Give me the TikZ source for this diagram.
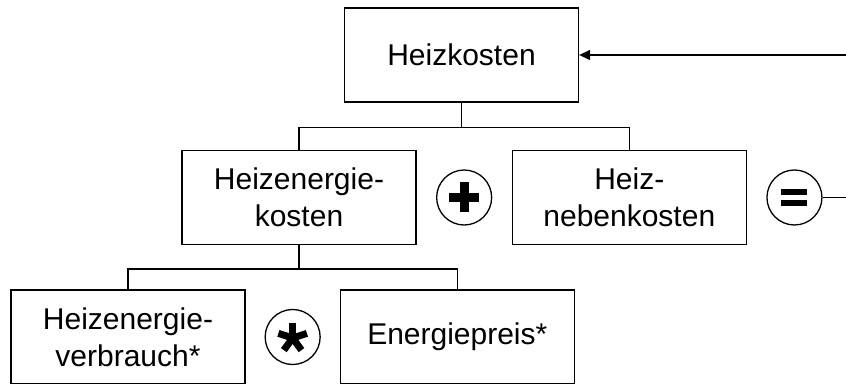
\documentclass[tikz,border=0pt]{standalone}
\usepackage{fontspec}
\setmainfont{Liberation Sans}
\usetikzlibrary{arrows.meta,calc,positioning}
\tikzset{
  >={Triangle[length=11pt,width=10pt]}
}

\begin{document}
\begin{tikzpicture}[
        x=1pt,y=1pt,
        line width=1.3pt,
        rekt/.style={rectangle,draw,align=center,minimum width=234pt,minimum height=94pt,inner sep=0pt,
          font=\fontsize{30}{37}\selectfont},
        opcirc/.style={circle,draw,minimum size=55pt,inner sep=0pt},
        sym/.style={line width=9pt}
      ]
      \useasboundingbox (0,0) rectangle (846,383);
      \clip (0,0) rectangle (846,383);
      \node (TOP) at (461.5,328) [rekt] {Heizkosten};
      \node (KOST) at (299,185.5) [rekt] {Heizenergie-\\kosten};
      \node (NEBEN) [rekt,right=95pt of KOST] {Heiz-\\nebenkosten};
      \node (VERB) at (128,46) [rekt] {Heizenergie-\\verbrauch*};
      \node (PREIS) [rekt,right=94pt of VERB] {Energiepreis*};
      \node (PLUS) at ($(KOST.east)!0.5!(NEBEN.west)$) [opcirc] {};
      \node (EQ) at ($(NEBEN.east)+(47.5,0)$) [opcirc] {};
      \node (MAL) at ($(VERB.east)!0.5!(PREIS.west)$) [opcirc] {};
      \coordinate (RET) at ($(EQ.east)+(60,0)$);
      % Baum
      \draw (TOP.south) -- ++(0,-25) -| (KOST.north);
      \draw (TOP.south) -- ++(0,-25) -| (NEBEN.north);
      \draw (KOST.south) -- ++(0,-24) -| (VERB.north);
      \draw (KOST.south) -- ++(0,-24) -| (PREIS.north);
      % Rueckfuehrung
      \draw[->] (EQ.east) -- (RET) |- (TOP.east);
      % Rechenzeichen
      \draw[sym] ($(PLUS)+(-15,0)$) -- ($(PLUS)+(15,0)$);
      \draw[sym] ($(PLUS)+(0,-15)$) -- ($(PLUS)+(0,15)$);
      \draw[line width=5.5pt] ($(EQ)+(-13,5.5)$) -- ($(EQ)+(13,5.5)$);
      \draw[line width=5.5pt] ($(EQ)+(-13,-5.5)$) -- ($(EQ)+(13,-5.5)$);
      \foreach \w in {90,18,162,-54,-126}
        \draw[line width=7pt] ($(MAL.center)+(0,-1)$) -- ++(\w:15);
    \end{tikzpicture}
\end{document}
